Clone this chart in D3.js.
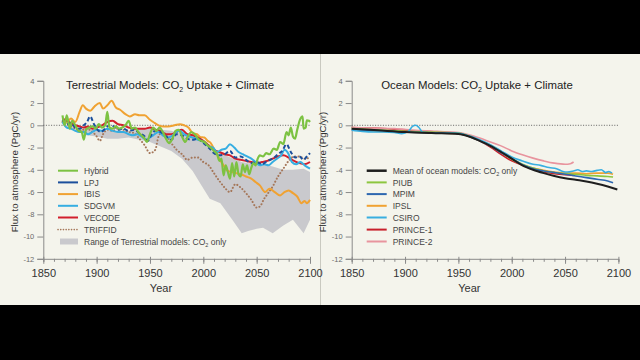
<!DOCTYPE html>
<html><head><meta charset="utf-8">
<script src="https://cdn.jsdelivr.net/npm/d3@7"></script>
<style>html,body{margin:0;padding:0;background:#000;}svg{display:block;}</style>
</head><body>
<script>
// ---------- DATA ----------
const yTicks = [4, 2, 0, -2, -4, -6, -8, -10, -12];
const xTicks = [1850, 1900, 1950, 2000, 2050, 2100];
const xMinor = d3.range(1850, 2101, 10);

const terrNames = ["Hybrid", "LPJ", "IBIS", "SDGVM", "VECODE", "TRIFFID"];
const oceanNames = ["Mean of ocean models: CO₂ only", "PIUB", "MPIM", "IPSL", "CSIRO", "PRINCE-1", "PRINCE-2"];

const rangeYears = [1868,1880,1890,1900,1910,1920,1930,1940,1950,1960,1970,1980,1990,1997,2006,2016,2028,2036,2042,2050,2056,2065,2075,2084,2094,2100];
const rangeUpper = [0,-0.2,-0.3,-0.4,-0.5,-0.5,-0.5,-0.3,-0.2,-0.4,-0.5,-0.8,-1.0,-1.2,-1.8,-2.5,-3.0,-3.3,-3.4,-3.4,-3.5,-3.7,-4.0,-4.0,-3.9,-4.2];
const rangeLower = [0,-0.5,-0.9,-1.0,-1.2,-1.2,-1.1,-1.3,-1.5,-1.9,-2.3,-3.0,-4.1,-5.2,-6.6,-7.0,-8.6,-9.7,-9.5,-9.3,-9.2,-9.7,-9.0,-8.5,-9.7,-8.5];

const hybrid = [[1868,0.9],[1870,0.0],[1872,0.9],[1875,-0.3],[1877,0.4],[1880,0.0],[1883,-0.5],[1886,-0.6],[1888,-1.3],[1890,-0.4],[1893,-0.2],[1896,-0.1],[1899,-0.3],[1902,0.1],[1905,-0.2],[1908,0.0],[1910,1.2],[1912,-0.2],[1915,-0.3],[1918,-0.1],[1921,-0.3],[1924,-0.2],[1927,0.0],[1930,0.4],[1933,-0.3],[1936,-0.2],[1939,-0.6],[1942,-0.9],[1945,-1.2],[1947,-1.5],[1950,-0.8],[1953,-0.2],[1956,-0.5],[1959,-0.2],[1962,-0.6],[1965,-1.2],[1968,-1.6],[1971,-1.2],[1974,-0.5],[1977,-0.4],[1980,-1.0],[1983,-1.5],[1986,-0.9],[1989,-0.6],[1992,-0.8],[1995,-1.2],[1998,-1.4],[2001,-1.5],[2004,-1.8],[2007,-2.0],[2010,-2.3],[2013,-2.6],[2015,-3.2],[2017,-3.0],[2019,-4.5],[2021,-3.6],[2023,-4.2],[2025,-4.8],[2027,-3.4],[2029,-4.6],[2031,-3.3],[2033,-4.4],[2035,-4.6],[2037,-3.5],[2039,-4.2],[2041,-3.6],[2043,-4.4],[2045,-3.8],[2047,-3.4],[2049,-3.6],[2051,-3.0],[2053,-2.7],[2056,-2.8],[2059,-2.5],[2062,-2.6],[2066,-2.1],[2069,-2.2],[2072,-1.5],[2075,-1.7],[2078,-0.6],[2080,-0.9],[2082,-0.2],[2084,-1.0],[2086,-1.2],[2088,-0.4],[2091,0.6],[2093,0.8],[2094,-0.3],[2096,-0.2],[2097,0.45],[2099,0.4],[2100,0.3]];
const lpj = [[1868,0.5],[1872,0.1],[1876,0.2],[1880,-0.2],[1884,-0.3],[1888,0.0],[1891,0.3],[1894,0.8],[1897,0.2],[1900,-0.3],[1904,-0.6],[1908,-0.3],[1912,0.0],[1916,-0.1],[1920,-0.4],[1925,-0.3],[1930,-0.5],[1935,-0.4],[1940,-0.7],[1945,-1.0],[1948,-1.4],[1951,-0.9],[1955,-0.5],[1960,-0.6],[1965,-1.0],[1970,-1.3],[1975,-0.8],[1980,-0.9],[1985,-1.2],[1990,-1.3],[1995,-1.2],[2000,-1.6],[2005,-2.0],[2010,-2.5],[2015,-2.7],[2020,-2.6],[2025,-2.3],[2030,-2.9],[2035,-2.8],[2040,-3.1],[2045,-3.4],[2050,-3.3],[2055,-3.5],[2060,-3.2],[2065,-3.0],[2070,-2.6],[2074,-2.3],[2078,-1.7],[2082,-2.4],[2086,-2.9],[2090,-2.8],[2094,-3.1],[2097,-2.8],[2100,-2.5]];
const ibis = [[1868,0.5],[1872,0.3],[1876,0.6],[1880,0.3],[1884,1.2],[1887,1.8],[1890,1.5],[1894,1.3],[1898,1.7],[1903,2.0],[1906,1.5],[1910,1.8],[1914,2.2],[1918,1.6],[1922,1.4],[1927,1.0],[1931,0.8],[1936,1.0],[1940,0.9],[1945,0.9],[1950,0.5],[1953,0.3],[1958,0.0],[1963,-0.1],[1967,-0.1],[1973,0.0],[1978,0.1],[1982,0.0],[1986,-0.2],[1990,-0.7],[1994,-0.8],[1997,-1.05],[2001,-1.1],[2004,-1.4],[2007,-1.6],[2011,-2.3],[2015,-3.0],[2019,-3.6],[2023,-4.1],[2027,-4.2],[2031,-4.3],[2035,-4.4],[2040,-4.6],[2045,-4.8],[2049,-5.1],[2053,-5.4],[2058,-6.0],[2062,-5.7],[2067,-6.0],[2072,-6.3],[2076,-6.0],[2080,-5.85],[2084,-6.1],[2088,-6.4],[2092,-7.0],[2095,-6.8],[2097,-7.0],[2100,-6.7]];
const sdgvm = [[1868,0.3],[1872,-0.2],[1876,-0.3],[1880,-0.5],[1884,-0.6],[1888,-0.6],[1892,-0.8],[1896,-0.6],[1900,-0.4],[1905,-0.5],[1910,-0.3],[1915,-0.5],[1920,-0.6],[1925,-0.6],[1930,-0.8],[1934,-0.9],[1938,-0.8],[1942,-1.0],[1947,-1.3],[1950,-1.1],[1953,-0.9],[1958,-0.6],[1962,-0.9],[1966,-1.1],[1970,-1.0],[1975,-0.6],[1978,-0.5],[1982,-0.8],[1986,-1.0],[1990,-1.1],[1995,-1.3],[2000,-1.5],[2005,-1.9],[2009,-2.0],[2013,-2.4],[2017,-2.2],[2021,-2.1],[2025,-1.7],[2029,-2.0],[2033,-2.4],[2037,-2.6],[2041,-2.8],[2045,-3.0],[2049,-3.3],[2053,-3.6],[2057,-3.5],[2061,-3.6],[2065,-3.3],[2069,-3.0],[2073,-2.7],[2076,-2.2],[2080,-2.6],[2083,-3.3],[2087,-3.5],[2091,-3.3],[2095,-3.6],[2100,-3.9]];
const vecode = [[1868,0.6],[1872,0.4],[1876,0.2],[1880,0.0],[1884,-0.1],[1888,-0.2],[1892,-0.1],[1896,-0.3],[1900,-0.2],[1905,0.0],[1910,0.3],[1915,0.4],[1920,0.1],[1925,0.0],[1930,-0.2],[1935,-0.3],[1940,-0.3],[1945,-0.3],[1950,-0.2],[1955,-0.4],[1960,-0.5],[1965,-0.8],[1970,-0.8],[1975,-0.6],[1980,-0.4],[1985,-0.8],[1990,-0.9],[1995,-1.1],[2000,-1.4],[2005,-1.8],[2010,-2.2],[2015,-2.4],[2020,-2.6],[2025,-2.7],[2030,-3.0],[2035,-3.1],[2040,-3.2],[2045,-3.3],[2050,-3.4],[2055,-3.3],[2060,-3.2],[2065,-3.0],[2070,-2.8],[2075,-2.7],[2080,-2.9],[2085,-3.2],[2090,-3.4],[2095,-3.5],[2100,-3.3]];
const triffid = [[1868,0.3],[1875,0.0],[1880,-0.3],[1885,-0.5],[1890,-0.3],[1895,-0.5],[1900,-1.0],[1903,-1.4],[1906,-0.8],[1910,-0.4],[1915,-0.5],[1920,-0.3],[1925,-0.4],[1930,-0.6],[1935,-0.7],[1940,-1.2],[1945,-1.8],[1950,-2.5],[1955,-2.2],[1958,-1.0],[1962,-0.6],[1966,-1.0],[1970,-1.6],[1975,-2.2],[1980,-2.6],[1985,-3.1],[1990,-2.9],[1995,-2.9],[2000,-3.3],[2005,-3.6],[2010,-4.3],[2015,-5.0],[2020,-5.6],[2025,-6.0],[2030,-5.3],[2035,-5.6],[2040,-6.1],[2045,-6.7],[2050,-7.4],[2053,-7.3],[2057,-6.6],[2060,-6.2],[2065,-5.5],[2070,-4.6],[2075,-3.9],[2080,-3.2],[2085,-2.8],[2090,-2.8],[2095,-3.0],[2100,-2.9]];

const oceanMean = [[1850,-0.3],[1875,-0.45],[1900,-0.6],[1925,-0.7],[1950,-0.78],[1960,-1.0],[1970,-1.4],[1980,-1.85],[1990,-2.4],[2000,-3.0],[2010,-3.6],[2020,-4.0],[2030,-4.3],[2040,-4.55],[2050,-4.75],[2060,-4.9],[2070,-5.05],[2080,-5.25],[2090,-5.5],[2099,-5.77]];
const piub = [[1850,-0.3],[1900,-0.55],[1950,-0.7],[1960,-0.95],[1970,-1.35],[1980,-1.8],[1990,-2.35],[2000,-2.95],[2010,-3.5],[2020,-3.85],[2030,-4.1],[2040,-4.25],[2050,-4.35],[2060,-4.4],[2070,-4.5],[2080,-4.55],[2090,-4.6],[2095,-4.65]];
const mpim = [[1850,-0.4],[1900,-0.6],[1950,-0.75],[1960,-1.0],[1970,-1.4],[1980,-1.85],[1990,-2.45],[2000,-3.0],[2010,-3.55],[2020,-3.9],[2030,-4.1],[2040,-4.25],[2050,-4.4],[2060,-4.55],[2070,-4.7],[2080,-4.85],[2090,-5.0],[2095,-5.16]];
const ipsl = [[1860,-0.5],[1900,-0.6],[1950,-0.75],[1960,-1.0],[1970,-1.4],[1980,-1.85],[1990,-2.45],[2000,-3.05],[2010,-3.55],[2020,-3.85],[2030,-4.05],[2040,-4.2],[2050,-4.3],[2060,-4.3],[2070,-4.35],[2080,-4.3],[2090,-4.3],[2095,-4.4]];
const csiro = [[1850,-0.45],[1860,-0.55],[1870,-0.6],[1880,-0.6],[1890,-0.65],[1897,-0.75],[1903,-0.55],[1907,-0.1],[1910,0.0],[1913,-0.2],[1917,-0.65],[1930,-0.7],[1940,-0.72],[1950,-0.72],[1960,-0.95],[1970,-1.3],[1980,-1.75],[1990,-2.3],[2000,-2.85],[2010,-3.2],[2020,-3.5],[2027,-3.6],[2035,-3.8],[2042,-3.9],[2048,-4.15],[2052,-4.2],[2058,-4.1],[2062,-4.0],[2066,-4.15],[2070,-4.1],[2075,-4.15],[2080,-4.05],[2084,-4.0],[2088,-4.25],[2091,-4.15],[2094,-4.3]];
const prince1 = [[1850,-0.2],[1870,-0.25],[1890,-0.35],[1898,-0.45],[1910,-0.5],[1930,-0.6],[1950,-0.7],[1960,-0.95],[1970,-1.4],[1980,-1.95],[1990,-2.6],[2000,-3.2],[2008,-3.5],[2020,-3.95],[2030,-4.2],[2040,-4.35],[2050,-4.45],[2058,-4.5]];
const prince2 = [[1850,-0.2],[1870,-0.25],[1890,-0.3],[1910,-0.45],[1930,-0.55],[1950,-0.65],[1960,-0.85],[1970,-1.15],[1980,-1.5],[1990,-1.85],[2000,-2.3],[2010,-2.65],[2020,-2.95],[2030,-3.2],[2040,-3.4],[2050,-3.5],[2055,-3.45],[2058,-3.3]];

// ---------- STYLE ----------
const W = 640, H = 360;
const bg = "#f4f4ec";
const terrSeries = [
  {name:"Hybrid", data:hybrid, color:"#7cc242", w:2.2},
  {name:"LPJ", data:lpj, color:"#1b4f9c", w:2, dash:"4,2.5"},
  {name:"IBIS", data:ibis, color:"#f0a232", w:2},
  {name:"SDGVM", data:sdgvm, color:"#36aee2", w:2},
  {name:"VECODE", data:vecode, color:"#d21f2c", w:2},
  {name:"TRIFFID", data:triffid, color:"#a5775a", w:2, dash:"0.1,3.2", dotted:true}
];
const terrOrder = ["TRIFFID","IBIS","VECODE","SDGVM","LPJ","Hybrid"];
const oceanSeries = [
  {name:oceanNames[0], data:oceanMean, color:"#1e1e1e", w:2},
  {name:"PIUB", data:piub, color:"#8cc63f", w:1.6},
  {name:"MPIM", data:mpim, color:"#2d67b0", w:1.6},
  {name:"IPSL", data:ipsl, color:"#f0a232", w:1.6},
  {name:"CSIRO", data:csiro, color:"#38aee0", w:1.6},
  {name:"PRINCE-1", data:prince1, color:"#c8202c", w:1.6},
  {name:"PRINCE-2", data:prince2, color:"#e8949e", w:1.6}
];
const oceanOrder = ["PRINCE-1","PRINCE-2","IPSL","PIUB","MPIM","CSIRO",oceanNames[0]];

const svg = d3.select("body").append("svg").attr("width", W).attr("height", H);
svg.append("rect").attr("width", W).attr("height", H).attr("fill", "#000");
svg.append("rect").attr("x", 0).attr("y", 54).attr("width", W).attr("height", 251).attr("fill", bg);
svg.append("line").attr("x1", 320.5).attr("x2", 320.5).attr("y1", 54).attr("y2", 305)
  .attr("stroke", "#c9c9c0").attr("stroke-width", 1);

const y = d3.scaleLinear().domain([-12, 4]).range([258.8, 80.8]);
const font = "'Liberation Sans', Arial, Helvetica, sans-serif";

function panel(x0, labelX, title, titleX) {
  const x = d3.scaleLinear().domain([1850, 2100]).range([x0, x0 + 266.7]);
  const g = svg.append("g");
  const areaG = g.append("g");
  const ya = g.append("g").attr("transform", `translate(${x0},0)`)
    .call(d3.axisLeft(y).tickValues(yTicks).tickSize(6).tickPadding(3).tickFormat(d => String(d)));
  ya.select(".domain").attr("stroke", "#8a8a8a");
  ya.selectAll(".tick line").attr("stroke", "#8a8a8a");
  ya.selectAll(".tick text").attr("fill", "#6a6a6a").attr("font-size", 7.5).attr("font-family", font);
  const xm = g.append("g").attr("transform", `translate(0,${y(-12)})`)
    .call(d3.axisBottom(x).tickValues(xMinor).tickSize(3).tickFormat(""));
  xm.select(".domain").attr("stroke", "#8a8a8a");
  xm.selectAll(".tick line").attr("stroke", "#8a8a8a");
  const xa = g.append("g").attr("transform", `translate(0,${y(-12)})`)
    .call(d3.axisBottom(x).tickValues(xTicks).tickSize(5).tickPadding(5).tickFormat(d3.format("d")));
  xa.select(".domain").remove();
  xa.selectAll(".tick line").attr("stroke", "#8a8a8a").attr("y1", -2);
  xa.selectAll(".tick text").attr("fill", "#333").attr("font-size", 11).attr("font-family", font);
  g.append("text").attr("x", x(1950) + 11).attr("y", 292).attr("text-anchor", "middle")
    .attr("font-size", 11).attr("font-family", font).attr("fill", "#333").text("Year");
  g.append("text").attr("transform", `translate(${labelX},172) rotate(-90)`)
    .attr("text-anchor", "middle").attr("font-size", 9.6).attr("font-family", font).attr("fill", "#333")
    .text("Flux to atmosphere (PgC/yr)");
  const t = g.append("text").attr("x", titleX).attr("y", 88.5).attr("text-anchor", "middle")
    .attr("font-size", 11.4).attr("font-family", font).attr("fill", "#222");
  t.append("tspan").text(title[0]);
  t.append("tspan").attr("font-size", 7).attr("dy", 3).text("2");
  t.append("tspan").attr("dy", -3).text(title[1]);
  g.append("line").attr("x1", x(1850)).attr("x2", x(2100)).attr("y1", y(0)).attr("y2", y(0))
    .attr("stroke", "#555").attr("stroke-width", 0.9).attr("stroke-dasharray", "1,1.6");
  const linesG = g.append("g");
  return {g, x, areaG, linesG};
}

function legendText(g, x, yy, label) {
  const t = g.append("text").attr("x", x).attr("y", yy + 3.2).attr("font-size", 8.5)
    .attr("font-family", font).attr("fill", "#444");
  const i = label.indexOf("₂");
  if (i >= 0) {
    t.append("tspan").text(label.slice(0, i));
    t.append("tspan").attr("font-size", 5.5).attr("dy", 2).text("2");
    t.append("tspan").attr("dy", -2).text(label.slice(i + 1));
  } else t.text(label);
}

const legY = [170.7, 182.4, 194.1, 205.8, 217.5, 229.6, 241.5];

// ---------- LEFT PANEL ----------
const L = panel(43.3, 18, ["Terrestrial Models: CO", " Uptake + Climate"], 170);
const area = d3.area().x((d, i) => L.x(rangeYears[i])).y0((d, i) => y(rangeLower[i])).y1(d => y(d));
L.areaG.append("path").datum(rangeUpper).attr("d", area).attr("fill", "#c9c9cd");
const lineL = d3.line().x(d => L.x(d[0])).y(d => y(d[1])).curve(d3.curveMonotoneX);
terrOrder.forEach(n => {
  const s = terrSeries.find(t => t.name === n);
  L.linesG.append("path").datum(s.data).attr("d", lineL).attr("fill", "none")
    .attr("stroke", s.color).attr("stroke-width", s.w).attr("stroke-linejoin", "round")
    .attr("stroke-linecap", s.dotted ? "round" : "butt")
    .attr("stroke-dasharray", s.dash || null);
});
terrSeries.forEach((s, i) => {
  L.g.append("line").attr("x1", 58).attr("x2", 78).attr("y1", legY[i]).attr("y2", legY[i])
    .attr("stroke", s.color).attr("stroke-width", s.dotted ? 1.6 : 2)
    .attr("stroke-linecap", s.dotted ? "round" : "butt")
    .attr("stroke-dasharray", s.dotted ? "0.1,2.6" : null);
  legendText(L.g, 84, legY[i], s.name);
});
L.g.append("rect").attr("x", 60).attr("y", legY[6] - 3).attr("width", 18).attr("height", 6).attr("fill", "#c9c9cd");
legendText(L.g, 84, legY[6], "Range of Terrestrial models: CO₂ only");

// ---------- RIGHT PANEL ----------
const R = panel(351.7, 326, ["Ocean Models: CO", " Uptake + Climate"], 477);
const lineR = d3.line().x(d => R.x(d[0])).y(d => y(d[1])).curve(d3.curveMonotoneX);
oceanOrder.forEach(n => {
  const s = oceanSeries.find(t => t.name === n);
  R.linesG.append("path").datum(s.data).attr("d", lineR).attr("fill", "none")
    .attr("stroke", s.color).attr("stroke-width", s.w).attr("stroke-linejoin", "round");
});
oceanSeries.forEach((s, i) => {
  R.g.append("line").attr("x1", 366.7).attr("x2", 386.7).attr("y1", legY[i]).attr("y2", legY[i])
    .attr("stroke", s.color).attr("stroke-width", i === 0 ? 2.5 : 2);
  legendText(R.g, 392.7, legY[i], s.name);
});
</script>
</body></html>
